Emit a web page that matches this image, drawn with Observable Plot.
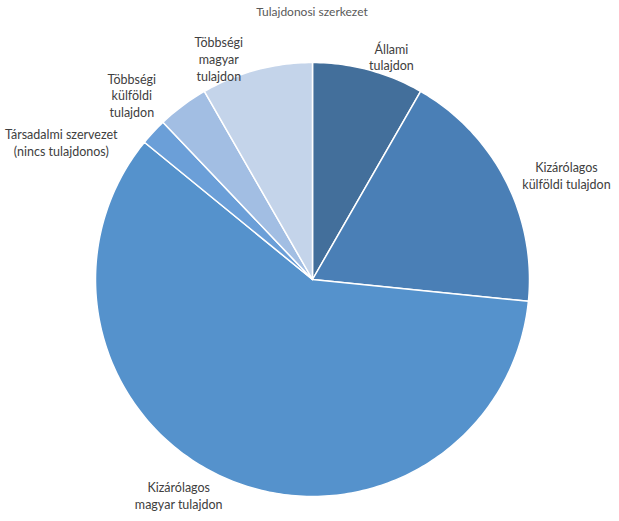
<!DOCTYPE html>
<html>
<head>
<meta charset="utf-8">
<script src="https://cdn.jsdelivr.net/npm/d3@7"></script>
<script src="https://cdn.jsdelivr.net/npm/@observablehq/plot@0.6"></script>
<style>
  body { margin: 0; background: #fff; }
  #title { font-family: Lato, "Noto Sans", sans-serif; font-size: 12px; color: #595959; text-align: center; width: 619px; padding-left: 5px; box-sizing: border-box; height: 24px; line-height: 24px; }
</style>
</head>
<body>
<div id="title">Tulajdonosi szerkezet</div>
<div id="chart"></div>
<script>
// Data (clockwise from 12 o'clock)
const categories = [
  "Állami\ntulajdon",
  "Kizárólagos\nkülföldi tulajdon",
  "Kizárólagos\nmagyar tulajdon",
  "Társadalmi szervezet\n(nincs tulajdonos)",
  "Többségi\nkülföldi\ntulajdon",
  "Többségi\nmagyar\ntulajdon"
];
const shares = [8.3, 18.3, 59.3, 2.0, 3.8, 8.3];

// Styles / layout (separate from data)
const colors = ["#436f9b", "#4a7fb6", "#5592cc", "#6b9fd8", "#a2bee3", "#c4d4ea"];
const labelAngles = [19.5, 67.7, 211.8, 298.7, 315.6, 337.0]; // degrees clockwise from top
const labelRadii = [1.09, 1.265, 1.17, 1.32, 1.19, 1.105];    // in pie radii

const total = d3.sum(shares);
let acc = 0;
const slices = shares.map((v, i) => {
  const a0 = acc / total * 2 * Math.PI;
  acc += v;
  const a1 = acc / total * 2 * Math.PI;
  return { i, a0, a1 };
});

// polygon points for every slice (center + arc)
const pts = [];
for (const s of slices) {
  pts.push({ k: s.i, x: 0, y: 0 });
  const n = Math.max(4, Math.ceil((s.a1 - s.a0) / (Math.PI / 180)));
  for (let j = 0; j <= n; j++) {
    const a = s.a0 + (s.a1 - s.a0) * j / n;
    pts.push({ k: s.i, x: Math.sin(a), y: Math.cos(a) });
  }
  pts.push({ k: s.i, x: 0, y: 0 });
}

const labels = categories.map((c, i) => {
  const a = labelAngles[i] * Math.PI / 180;
  return { text: c, x: labelRadii[i] * Math.sin(a), y: labelRadii[i] * Math.cos(a) };
});

const W = 619, H = 497, R = 217, cx = 312, cy = 255;
const chart = Plot.plot({
  width: W, height: H,
  margin: 0,
  x: { domain: [-cx / R, (W - cx) / R], range: [0, W], axis: null },
  y: { domain: [-(H - cy) / R, cy / R], range: [H, 0], axis: null },
  marks: [
    Plot.line(pts, { x: "x", y: "y", z: "k", fill: d => colors[d.k], stroke: "#ffffff", strokeWidth: 1.5, strokeLinejoin: "round", curve: "linear" }),
    Plot.text(labels, { x: "x", y: "y", text: "text", fill: "#404040", fontSize: 12.5, lineHeight: 1.33, fontFamily: "Lato, 'Noto Sans', sans-serif", textAnchor: "middle" })
  ]
});
document.getElementById("chart").appendChild(chart);
</script>
</body>
</html>
